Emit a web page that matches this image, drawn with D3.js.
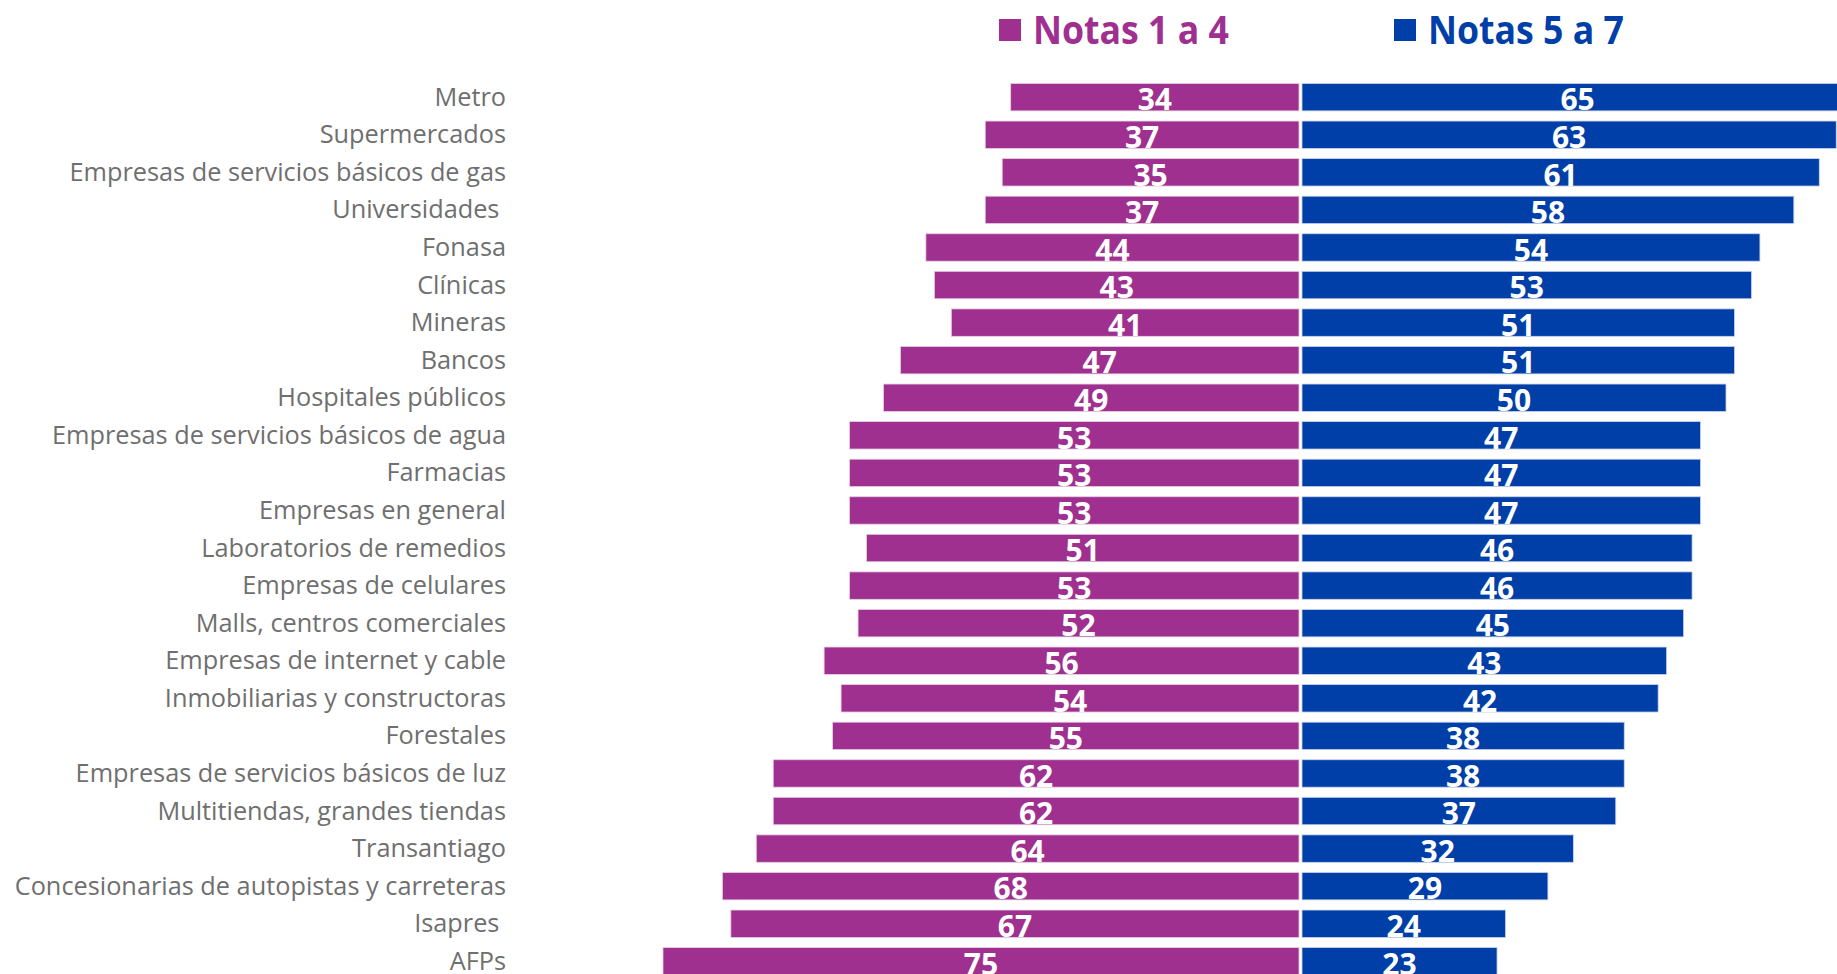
<!DOCTYPE html>
<html>
<head>
<meta charset="utf-8">
<script src="https://cdn.jsdelivr.net/npm/d3@7"></script>
<style>
  body { margin: 0; background: #fff; overflow: hidden; }
  .cat { white-space: pre; }
</style>
</head>
<body>
<svg class="chart"></svg>
<script>
var categories = ["Metro", "Supermercados", "Empresas de servicios básicos de gas", "Universidades ",
  "Fonasa", "Clínicas", "Mineras", "Bancos", "Hospitales públicos",
  "Empresas de servicios básicos de agua", "Farmacias", "Empresas en general",
  "Laboratorios de remedios", "Empresas de celulares", "Malls, centros comerciales",
  "Empresas de internet y cable", "Inmobiliarias y constructoras", "Forestales",
  "Empresas de servicios básicos de luz", "Multitiendas, grandes tiendas", "Transantiago",
  "Concesionarias de autopistas y carreteras", "Isapres ", "AFPs"];
var notas1a4 = [34, 37, 35, 37, 44, 43, 41, 47, 49, 53, 53, 53, 51, 53, 52, 56, 54, 55, 62, 62, 64, 68, 67, 75];
var notas5a7 = [65, 63, 61, 58, 54, 53, 51, 51, 50, 47, 47, 47, 46, 46, 45, 43, 42, 38, 38, 37, 32, 29, 24, 23];
var seriesNames = ["Notas 1 a 4", "Notas 5 a 7"];

function barChart ()
{
	var width = 1837,
	height = 974;

	var purple = "#a0308f",
		blue = "#003fa7";

	var svg = d3.select(".chart")
			.attr("width", width)
			.attr("height", height);

	var y = d3.scaleBand()
			.domain(categories)
			.range([78.4, 980.1])
			.paddingInner(0.27)
			.paddingOuter(0.135);

	// left side grows leftwards from the centre
	var xLeft = d3.scaleLinear().domain([0, 100]).range([1299, 1299 - 848]);
	var xRight = d3.scaleLinear().domain([0, 100]).range([1302, 1302 + 848]);

	var rows = categories.map(function(c, i) {
		return { cat: c, a: notas1a4[i], b: notas5a7[i] };
	});

	var g = svg.selectAll(".row")
			.data(rows)
		.enter().append("g")
			.attr("class", "row");

	g.append("rect")
			.attr("x", function(d) { return xLeft(d.a); })
			.attr("y", function(d) { return y(d.cat); })
			.attr("width", function(d) { return xLeft(0) - xLeft(d.a); })
			.attr("height", y.bandwidth())
			.style("fill", purple)
			.style("stroke", "#e6cfe2")
			.style("stroke-width", 0.8);

	g.append("rect")
			.attr("x", xRight(0))
			.attr("y", function(d) { return y(d.cat); })
			.attr("width", function(d) { return xRight(d.b) - xRight(0); })
			.attr("height", y.bandwidth())
			.style("fill", blue)
			.style("stroke", "#c9d3ea")
			.style("stroke-width", 0.8);

	g.append("text")
			.attr("class", "cat")
			.attr("x", 506)
			.attr("y", function(d) { return y(d.cat) + y.bandwidth() / 2 + 8.5; })
			.attr("text-anchor", "end")
			.style("font-family", "'Open Sans', sans-serif")
			.style("font-size", "25.3px")
			.style("fill", "#6f6f6f")
			.text(function(d) { return d.cat; });

	g.append("text")
			.attr("x", function(d) { return (xLeft(d.a) + xLeft(0)) / 2; })
			.attr("y", function(d) { return y(d.cat) + y.bandwidth() - 0.5; })
			.attr("text-anchor", "middle")
			.style("font-family", "'Open Sans', sans-serif")
			.style("font-weight", "bold")
			.style("font-size", "30px")
			.style("fill", "#fff")
			.text(function(d) { return d.a; });

	g.append("text")
			.attr("x", function(d) { return (xRight(d.b) + xRight(0)) / 2; })
			.attr("y", function(d) { return y(d.cat) + y.bandwidth() - 0.5; })
			.attr("text-anchor", "middle")
			.style("font-family", "'Open Sans', sans-serif")
			.style("font-weight", "bold")
			.style("font-size", "30px")
			.style("fill", "#fff")
			.text(function(d) { return d.b; });

	// legend
	var legend = [
		{ name: seriesNames[0], color: purple, x: 999 },
		{ name: seriesNames[1], color: blue, x: 1394 }
	];

	var lg = svg.selectAll(".legend")
			.data(legend)
		.enter().append("g")
			.attr("class", "legend")
			.attr("transform", function(d) { return "translate(" + d.x + ",0)"; });

	lg.append("rect")
			.attr("x", 0)
			.attr("y", 19)
			.attr("width", 22)
			.attr("height", 22)
			.style("fill", function(d) { return d.color; });

	lg.append("text")
			.attr("x", 34)
			.attr("y", 44)
			.attr("textLength", 196)
			.attr("lengthAdjust", "spacingAndGlyphs")
			.style("font-family", "'Open Sans', sans-serif")
			.style("font-weight", "bold")
			.style("font-size", "40px")
			.style("fill", function(d) { return d.color; })
			.text(function(d) { return d.name; });
}

barChart();
</script>
</body>
</html>
